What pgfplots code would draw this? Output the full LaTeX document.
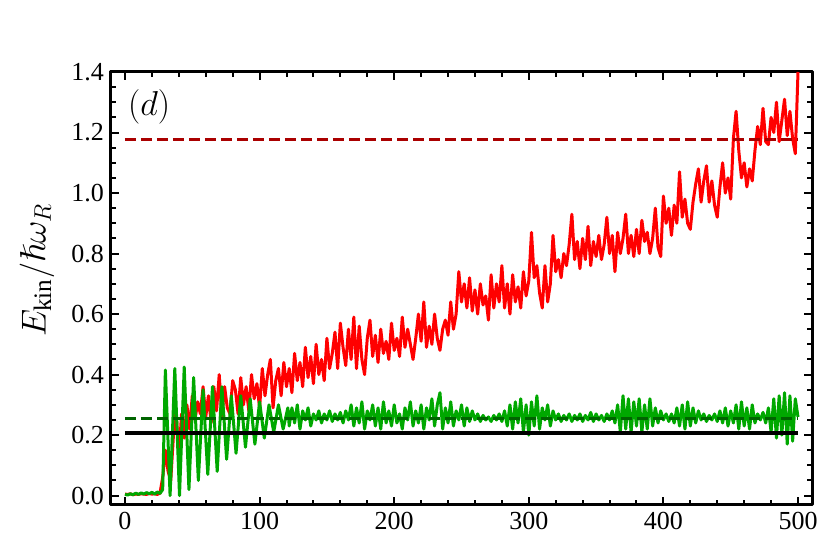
\documentclass[border=0pt]{standalone}
\usepackage{fontspec}
\setmainfont{Liberation Serif}
\usepackage{amssymb}
\usepackage{pgfplots}
\usepackage{pgfplotstable}
\pgfplotsset{compat=1.18}

\definecolor{redline}{RGB}{255,0,0}
\definecolor{greenline}{RGB}{0,168,0}
\definecolor{darkredd}{RGB}{170,0,0}
\definecolor{darkgreend}{RGB}{0,100,0}

% red curve: E_kin vs time
\pgfplotstableread{
x y
0 0.005
2 0.004
4 0.006
6 0.003
8 0.005
10 0.004
12 0.006
14 0.005
16 0.004
18 0.007
20 0.005
22 0.006
24 0.004
26 0.008
28 0.06
30 0.15
32 0.08
34 0.05
36 0.20
38 0.28
40 0.12
42 0.27
44 0.19
46 0.30
48 0.22
50 0.33
52 0.25
54 0.31
56 0.27
58 0.36
60 0.26
62 0.33
64 0.24
66 0.36
68 0.28
70 0.40
72 0.26
74 0.36
76 0.29
78 0.27
80 0.38
82 0.35
84 0.27
86 0.39
88 0.30
90 0.36
92 0.28
94 0.40
96 0.32
98 0.37
100 0.29
102 0.42
104 0.33
106 0.40
108 0.45
110 0.29
112 0.38
114 0.42
116 0.33
118 0.44
120 0.36
122 0.42
124 0.34
126 0.47
128 0.38
130 0.44
132 0.36
134 0.49
136 0.39
138 0.46
140 0.37
142 0.50
144 0.40
146 0.45
148 0.38
150 0.52
152 0.42
154 0.47
156 0.54
158 0.42
160 0.57
162 0.49
164 0.43
166 0.55
168 0.45
170 0.59
172 0.42
174 0.56
176 0.45
178 0.40
180 0.52
182 0.58
184 0.46
186 0.53
188 0.44
190 0.55
192 0.47
194 0.51
196 0.45
198 0.57
200 0.48
202 0.52
204 0.46
206 0.59
208 0.49
210 0.55
212 0.50
214 0.45
216 0.52
218 0.60
220 0.51
222 0.64
224 0.49
226 0.56
228 0.50
230 0.60
232 0.52
234 0.48
236 0.55
238 0.58
240 0.53
242 0.64
244 0.55
246 0.60
248 0.74
250 0.64
252 0.70
254 0.62
256 0.72
258 0.61
260 0.68
262 0.60
264 0.70
266 0.63
268 0.66
270 0.58
272 0.73
274 0.62
276 0.70
278 0.64
280 0.76
282 0.62
284 0.70
286 0.60
288 0.73
290 0.64
292 0.69
294 0.62
296 0.74
298 0.66
300 0.71
302 0.87
304 0.72
306 0.76
308 0.67
310 0.62
312 0.76
314 0.64
316 0.70
318 0.86
320 0.74
322 0.78
324 0.72
326 0.80
328 0.76
330 0.83
332 0.93
334 0.78
336 0.84
338 0.75
340 0.85
342 0.78
344 0.89
346 0.76
348 0.84
350 0.79
352 0.86
354 0.78
356 0.83
358 0.92
360 0.80
362 0.86
364 0.74
366 0.87
368 0.80
370 0.85
372 0.93
374 0.80
376 0.86
378 0.79
380 0.88
382 0.80
384 0.91
386 0.84
388 0.87
390 0.80
392 0.85
394 0.95
396 0.82
398 0.79
400 0.99
402 0.90
404 0.95
406 0.86
408 0.96
410 0.90
412 1.07
414 0.92
416 0.98
418 0.90
420 0.88
422 0.97
424 1.03
426 1.08
428 0.97
430 1.04
432 1.09
434 0.97
436 1.04
438 0.96
440 0.92
442 1.02
444 1.10
446 1.00
448 1.05
450 0.98
452 1.18
454 1.27
456 1.14
458 1.05
460 1.10
462 1.02
464 1.08
466 1.04
468 1.14
470 1.22
472 1.16
474 1.28
476 1.17
478 1.16
480 1.25
482 1.20
484 1.30
486 1.17
488 1.24
490 1.31
492 1.19
494 1.27
496 1.18
498 1.13
500 1.40
}\redtable

% green curve
\pgfplotstableread{
x y
0 0.004
2 0.002
4 0.006
6 0.003
8 0.008
10 0.004
12 0.009
14 0.005
16 0.010
18 0.006
20 0.011
22 0.005
24 0.012
26 0.007
28 0.02
30 0.415
33.5 0.0
37 0.42
40.5 0.0
44 0.425
47.5 0.02
51 0.39
54.5 0.05
58 0.35
61.5 0.07
65 0.36
68.5 0.08
72 0.36
75.5 0.12
79 0.33
82.5 0.14
86 0.33
89.5 0.16
93 0.32
96.5 0.17
100 0.31
103.5 0.19
107 0.30
110.5 0.21
114 0.30
117.5 0.22
121 0.29
122 0.23
124 0.29
126 0.24
128 0.30
130 0.22
132 0.28
134 0.25
136 0.29
138 0.23
140 0.27
142 0.25
144 0.28
146 0.24
148 0.27
150 0.25
152 0.28
154 0.245
156 0.27
158 0.25
160 0.275
162 0.24
164 0.28
166 0.25
168 0.30
170 0.23
172 0.29
174 0.24
176 0.31
178 0.22
180 0.28
182 0.25
184 0.30
186 0.23
188 0.29
190 0.22
192 0.31
194 0.24
196 0.28
198 0.23
200 0.30
202 0.24
204 0.27
206 0.22
208 0.29
210 0.25
212 0.31
214 0.23
216 0.28
218 0.24
220 0.30
222 0.22
224 0.29
226 0.25
228 0.32
230 0.23
232 0.30
234 0.34
236 0.22
238 0.29
240 0.24
242 0.31
244 0.23
246 0.28
248 0.25
250 0.30
252 0.23
254 0.29
256 0.245
258 0.28
260 0.25
262 0.27
264 0.245
266 0.265
268 0.25
270 0.26
272 0.245
274 0.265
276 0.25
278 0.27
280 0.245
282 0.28
284 0.23
286 0.30
288 0.22
290 0.31
292 0.24
294 0.32
296 0.21
298 0.30
300 0.20
302 0.31
304 0.23
306 0.33
308 0.22
310 0.29
312 0.25
314 0.30
316 0.23
318 0.28
320 0.25
322 0.27
324 0.245
326 0.265
328 0.25
330 0.27
332 0.245
334 0.265
336 0.25
338 0.27
340 0.245
342 0.265
344 0.25
346 0.275
348 0.245
350 0.27
352 0.25
354 0.265
356 0.245
358 0.27
360 0.25
362 0.28
364 0.24
366 0.30
368 0.21
370 0.33
372 0.22
374 0.32
376 0.21
378 0.31
380 0.23
382 0.32
384 0.21
386 0.30
388 0.22
390 0.32
392 0.23
394 0.29
396 0.24
398 0.28
400 0.25
402 0.27
404 0.245
406 0.27
408 0.24
410 0.29
412 0.23
414 0.30
416 0.22
418 0.31
420 0.23
422 0.29
424 0.24
426 0.28
428 0.25
430 0.27
432 0.245
434 0.265
436 0.25
438 0.27
440 0.245
442 0.28
444 0.24
446 0.29
448 0.23
450 0.28
452 0.24
454 0.30
456 0.22
458 0.31
460 0.23
462 0.29
464 0.22
466 0.30
468 0.24
470 0.27
472 0.25
474 0.275
476 0.24
478 0.29
480 0.21
482 0.32
484 0.19
486 0.33
488 0.20
490 0.34
492 0.17
494 0.33
496 0.18
498 0.32
500 0.26
}\greentable

\begin{document}
\begin{tikzpicture}
\begin{axis}[
    scale only axis,
    width=350.5pt, height=216.5pt,
    xmin=-10.4, xmax=510.4,
    ymin=-0.031, ymax=1.4,
    xtick={0,100,...,500},
    ytick={0,0.2,...,1.4},
    minor x tick num=4,
    minor y tick num=3,
    tick pos=both,
    tick align=inside,
    xticklabel pos=left, yticklabel pos=left,
    major tick length=4pt, minor tick length=2.5pt,
    every tick/.style={black, line width=1pt},
    axis line style={line width=1.5pt},
    yticklabel style={/pgf/number format/.cd, fixed, fixed zerofill, precision=1},
    /pgf/number format/assume math mode=true,
    tick label style={font=\fontsize{13}{15}\selectfont},
    ylabel={$E_{\rm kin}/\hslash\omega_R$},
    ylabel style={at={(rel axis cs:-0.1056,0.543)}, anchor=center, font=\fontsize{18}{21}\selectfont},
    line join=round,
]
\addplot[redline, line width=1.5pt] table[x=x,y=y] {\redtable};
\addplot[greenline, line width=1.5pt] table[x=x,y=y] {\greentable};
\addplot[darkgreend, dashed, dash pattern=on 5.5pt off 2.5pt, line width=1.6pt] coordinates {(0,0.255) (500,0.255)};
\addplot[black, line width=1.6pt] coordinates {(0,0.207) (500,0.207)};
\addplot[darkredd, dashed, dash pattern=on 5.5pt off 2.5pt, line width=1.6pt] coordinates {(0,1.178) (500,1.178)};
\node[anchor=west, font=\fontsize{17}{20}\selectfont] at (axis cs:-3,1.285) {$(d)$};
\coordinate (sw) at (rel axis cs:0,0);
\coordinate (ne) at (rel axis cs:1,1);
\end{axis}
\path ([shift={(-55.5pt,-20pt)}]sw) rectangle ([shift={(9pt,36pt)}]ne);
\end{tikzpicture}
\end{document}
